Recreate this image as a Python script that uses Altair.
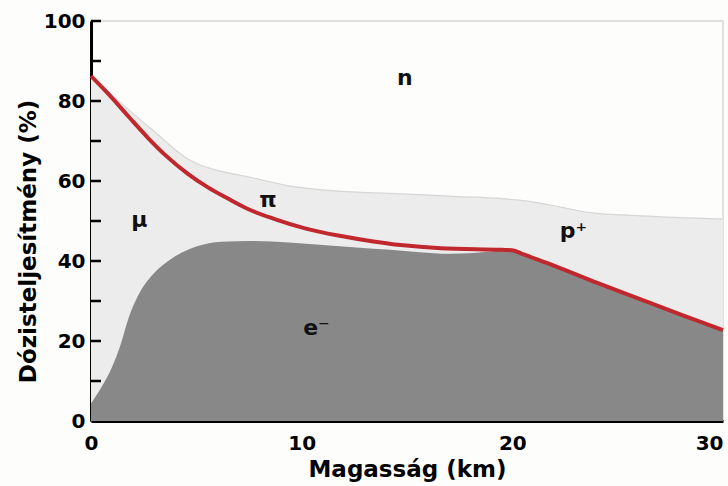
import altair as alt
import pandas as pd

# Altitude (km) / dose share (%) samples for each boundary
upper_km = [0, 1.44, 3.02, 4.6, 5.1, 6.2, 7.5, 9.4, 11, 12.6, 14.7, 17.4, 19.5, 20.5, 21.8, 23.7, 26.1, 30]
upper_pct = [86.2, 79.4, 72.3, 65.5, 64.2, 62.4, 61.0, 58.8, 57.8, 57.2, 56.8, 56.1, 55.6, 55.1, 54.0, 52.1, 51.3, 50.5]

red_km = [0, 0.8, 1.8, 2.7, 3.5, 4.6, 5.55, 6.5, 7.45, 8.65, 10.2, 11.8, 13.4, 14.7, 16.6, 19.5, 20, 20.5, 22, 24, 26, 28, 30]
red_pct = [86.2, 81.9, 76.0, 70.8, 66.6, 61.8, 58.4, 55.6, 53.0, 50.6, 48.1, 46.3, 44.9, 44.0, 43.2, 42.8, 42.7, 41.7, 38.8, 34.6, 30.6, 26.6, 22.7]

elec_km = [0, 0.5, 1.0, 1.4, 1.8, 2.2, 2.6, 3.0, 3.8, 4.6, 5.4, 6.2, 7.5, 9.4, 11, 12.6, 14.2, 15.6, 17, 18.9, 19.5, 20, 20.5, 22, 24, 26, 28, 30]
elec_pct = [4.4, 8.5, 13.5, 19.0, 26.0, 31.0, 34.5, 37.0, 40.5, 42.8, 44.2, 44.8, 45.0, 44.6, 44.0, 43.4, 42.8, 42.2, 41.8, 42.3, 42.6, 42.7, 41.7, 38.8, 34.6, 30.6, 26.6, 22.7]

label_text = ["n", "μ", "π", "p⁺", "e⁻"]
label_km = [14.9, 2.3, 8.4, 22.9, 10.7]
label_pct = [85.8, 50.3, 55.3, 47.5, 23.3]

y_minor = [10, 20, 30, 40, 50, 60, 70, 80, 90, 100]

upper = pd.DataFrame({"km": upper_km, "pct": upper_pct})
red = pd.DataFrame({"km": red_km, "pct": red_pct})
elec = pd.DataFrame({"km": elec_km, "pct": elec_pct})
labels = pd.DataFrame({"km": label_km, "pct": label_pct, "t": label_text})
ticks = pd.DataFrame({"v": y_minor})

FONT = "DejaVu Sans"

xs = alt.Scale(domain=[0, 30], nice=False)
ys = alt.Scale(domain=[0, 100], nice=False)

x_axis = alt.Axis(
    values=[0, 10, 20, 30], ticks=False, grid=False,
    domainColor="black", domainWidth=3,
    labelFont=FONT, labelFontSize=20, labelFontWeight="bold", labelColor="black",
    labelPadding=12,
    labelAlign=alt.expr("datum.value == 30 ? 'right' : 'center'"),
    title="Magasság (km)", titleFont=FONT, titleFontSize=23, titleFontWeight="bold",
    titleColor="black", titleX=316, titleY=48, titleBaseline="middle",
)
y_axis = alt.Axis(
    values=[0, 20, 40, 60, 80, 100], ticks=False, grid=False,
    domainColor="black", domainWidth=3,
    labelFont=FONT, labelFontSize=20, labelFontWeight="bold", labelColor="black",
    labelPadding=6, labelBaseline="middle",
    title="Dózisteljesítmény (%)", titleFont=FONT, titleFontSize=23, titleFontWeight="bold",
    titleColor="black", titleX=-63, titleY=220, titleAngle=-90,
    titleAlign="center", titleBaseline="middle",
)

light = alt.Chart(upper).mark_area(color="#ececec", interpolate="monotone").encode(
    x=alt.X("km:Q", scale=xs, axis=x_axis),
    y=alt.Y("pct:Q", scale=ys, axis=y_axis),
    y2=alt.datum(0),
)
edge = alt.Chart(upper).mark_line(color="#d6d6d6", strokeWidth=1.2, interpolate="monotone").encode(
    x=alt.X("km:Q", scale=xs), y=alt.Y("pct:Q", scale=ys)
)
dark = alt.Chart(elec).mark_area(color="#888888", interpolate="monotone").encode(
    x=alt.X("km:Q", scale=xs), y=alt.Y("pct:Q", scale=ys), y2=alt.datum(0)
)
redline = alt.Chart(red).mark_line(color="#c0282d", strokeWidth=4, interpolate="monotone").encode(
    x=alt.X("km:Q", scale=xs), y=alt.Y("pct:Q", scale=ys)
)
tick_marks = alt.Chart(ticks).mark_rule(color="black", strokeWidth=2.5).encode(
    y=alt.Y("v:Q", scale=ys), x=alt.value(0), x2=alt.value(10)
)
text = alt.Chart(labels).mark_text(
    font=FONT, fontSize=22, fontWeight="bold", color="#111111", baseline="middle", align="center"
).encode(
    x=alt.X("km:Q", scale=xs), y=alt.Y("pct:Q", scale=ys), text="t:N"
)

chart = alt.layer(light, edge, dark, redline, tick_marks, text).properties(
    width=632, height=400,
    autosize=alt.AutoSizeParams(type="none"),
    padding={"left": 91, "top": 21, "right": 5, "bottom": 65},
    background="#fdfdfb",
).configure_view(stroke="#d8d8d8", strokeWidth=1.5, fill="#fdfdfb")

chart.save("out.html", embed_options={"renderer": "svg", "actions": False})
